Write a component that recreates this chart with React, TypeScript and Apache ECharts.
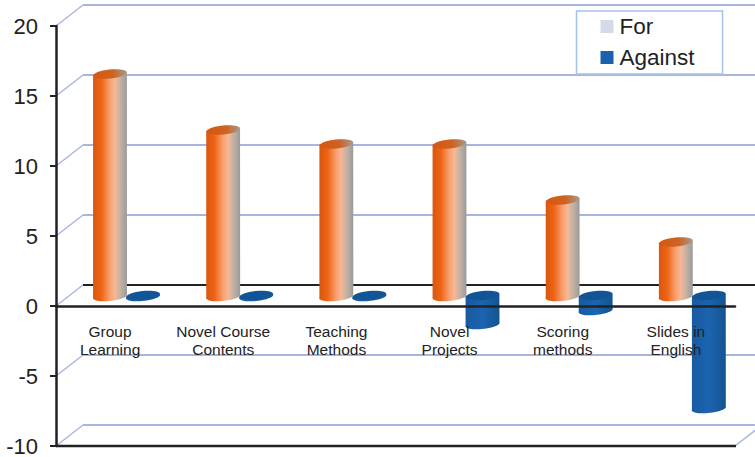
import React, { useEffect, useRef } from "react";
import * as echarts from "echarts";

const categories = [
  "Group\nLearning",
  "Novel Course\nContents",
  "Teaching\nMethods",
  "Novel\nProjects",
  "Scoring\nmethods",
  "Slides in\nEnglish",
];
const forValues = [16, 12, 11, 11, 7, 4];
const againstValues = [0, 0, 0, -2, -1, -8];
const wallTicks = [-10, -5, 0, 5, 10, 15, 20];

const INK = "#222222";
const WALL = "#a9b5de";
const DEPTH_X = 27;
const DEPTH_Y = 21;
const RADIUS_X = 17;
const RADIUS_Y = 4.5;
const TILT = (6 * Math.PI) / 180;

const orangeBody = new echarts.graphic.LinearGradient(0, 0, 1, 0, [
  { offset: 0, color: "#d9560e" },
  { offset: 0.25, color: "#ee6415" },
  { offset: 0.5, color: "#f9a070" },
  { offset: 0.65, color: "#f5b896" },
  { offset: 0.82, color: "#c0b0a5" },
  { offset: 1, color: "#9a9a9a" },
]);
const orangeCap = new echarts.graphic.LinearGradient(0, 0, 1, 0, [
  { offset: 0, color: "#d9560e" },
  { offset: 0.6, color: "#cc6424" },
  { offset: 1, color: "#a89a90" },
]);
const blueBody = new echarts.graphic.LinearGradient(0, 0, 1, 0, [
  { offset: 0, color: "#175a9f" },
  { offset: 0.5, color: "#1c64b0" },
  { offset: 1, color: "#14548f" },
]);

// A tilted cylinder: the body outline plus the elliptical cap at its upper end.
function cylinder(cx: number, topY: number, bottomY: number, body: any, cap: any) {
  const dx = RADIUS_X * Math.cos(TILT);
  const dy = RADIUS_X * Math.sin(TILT);
  const deg = (-TILT * 180) / Math.PI;
  const d =
    `M ${cx - dx} ${topY + dy} L ${cx - dx} ${bottomY + dy} ` +
    `A ${RADIUS_X} ${RADIUS_Y} ${deg} 0 0 ${cx + dx} ${bottomY - dy} ` +
    `L ${cx + dx} ${topY - dy} ` +
    `A ${RADIUS_X} ${RADIUS_Y} ${deg} 0 1 ${cx - dx} ${topY + dy} Z`;
  return {
    type: "group",
    children: [
      { type: "path", shape: { pathData: d }, style: { fill: body } },
      {
        type: "ellipse",
        x: cx,
        y: topY,
        rotation: TILT,
        shape: { cx: 0, cy: 0, rx: RADIUS_X, ry: RADIUS_Y },
        style: { fill: cap },
      },
    ],
  };
}

function renderFor(_: any, api: any) {
  const top = api.coord([api.value(0), api.value(1)]);
  const base = api.coord([api.value(0), 0]);
  return cylinder(top[0] - 2.6, top[1] - 8, base[1] - 10.5, orangeBody, orangeCap);
}

function renderAgainst(_: any, api: any) {
  const end = api.coord([api.value(0), api.value(1)]);
  const base = api.coord([api.value(0), 0]);
  return cylinder(end[0] + 30.4, base[1] - 10.5, end[1] - 10.5, blueBody, "#125596");
}

// Back wall rules with their slanted returns to the front plane.
function renderWall(params: any, api: any) {
  const tick = api.value(1);
  const sys = params.coordSys;
  const y = api.coord([0, tick])[1];
  const left = sys.x;
  const right = sys.x + sys.width;
  const children: any[] = [
    {
      type: "line",
      shape: { x1: left, y1: y, x2: left + DEPTH_X, y2: y - DEPTH_Y },
      style: { stroke: WALL, lineWidth: 1.5 },
    },
    {
      type: "line",
      shape: { x1: left + DEPTH_X, y1: y - DEPTH_Y, x2: right + DEPTH_X, y2: y - DEPTH_Y },
      style: { stroke: tick === 0 ? INK : WALL, lineWidth: 2 },
    },
  ];
  if (tick === wallTicks[0]) {
    children.push({
      type: "line",
      shape: { x1: right, y1: y, x2: right + DEPTH_X, y2: y - DEPTH_Y },
      style: { stroke: WALL, lineWidth: 1.5 },
    });
    children.push({
      type: "line",
      shape: { x1: left, y1: y, x2: right + 1, y2: y },
      style: { stroke: INK, lineWidth: 2.5 },
    });
  }
  return { type: "group", children };
}

export default function App() {
  const ref = useRef<HTMLDivElement>(null);

  useEffect(() => {
    const chart = echarts.init(ref.current!, null, { renderer: "svg" });
    chart.setOption({
      animation: false,
      backgroundColor: "#ffffff",
      textStyle: { fontFamily: "Liberation Sans" },
      grid: { left: 56, top: 26, width: 679, height: 420, outerBoundsMode: "none", containLabel: false },
      legend: {
        data: ["For", "Against"],
        orient: "vertical",
        left: 576.5,
        top: 11,
        padding: [4, 28, 5, 24],
        itemWidth: 13,
        itemHeight: 13,
        itemGap: 8,
        icon: "rect",
        backgroundColor: "#ffffff",
        borderColor: "#a4c2e8",
        borderWidth: 1.5,
        z: 20,
        textStyle: {
          color: INK,
          fontSize: 22.5,
          lineHeight: 22,
          padding: [0, 0, 0, 1],
          fontFamily: "Liberation Sans",
        },
      },
      xAxis: {
        type: "category",
        data: categories,
        z: 10,
        axisTick: { show: false },
        axisLine: { show: true, onZero: true, lineStyle: { color: INK, width: 2.5 } },
        axisLabel: {
          interval: 0,
          margin: -124,
          color: INK,
          fontSize: 15.5,
          lineHeight: 18,
          padding: [0, 5, 0, 0],
          fontFamily: "Liberation Sans",
        },
      },
      yAxis: {
        type: "value",
        min: -10,
        max: 20,
        interval: 5,
        z: 10,
        splitLine: { show: false },
        axisLine: { show: true, lineStyle: { color: INK, width: 2.5 } },
        axisTick: { show: true, length: 6, lineStyle: { color: INK, width: 2 } },
        axisLabel: {
          margin: 18,
          color: INK,
          fontSize: 22,
          fontFamily: "Liberation Sans",
        },
      },
      series: [
        {
          name: "wall",
          type: "custom",
          z: 1,
          silent: true,
          renderItem: renderWall,
          encode: { x: 0, y: 1 },
          data: wallTicks.map((t) => [0, t]),
        },
        {
          name: "For",
          type: "custom",
          z: 3,
          itemStyle: { color: "#d3dce6" },
          renderItem: renderFor,
          encode: { x: 0, y: 1 },
          data: forValues.map((v, i) => [i, v]),
        },
        {
          name: "Against",
          type: "custom",
          z: 2,
          itemStyle: { color: "#1a62ad" },
          renderItem: renderAgainst,
          encode: { x: 0, y: 1 },
          data: againstValues.map((v, i) => [i, v]),
        },
      ],
    });
    return () => chart.dispose();
  }, []);

  return (
    <div
      ref={ref}
      style={{ position: "fixed", left: 0, top: 0, width: 755, height: 457 }}
    />
  );
}
